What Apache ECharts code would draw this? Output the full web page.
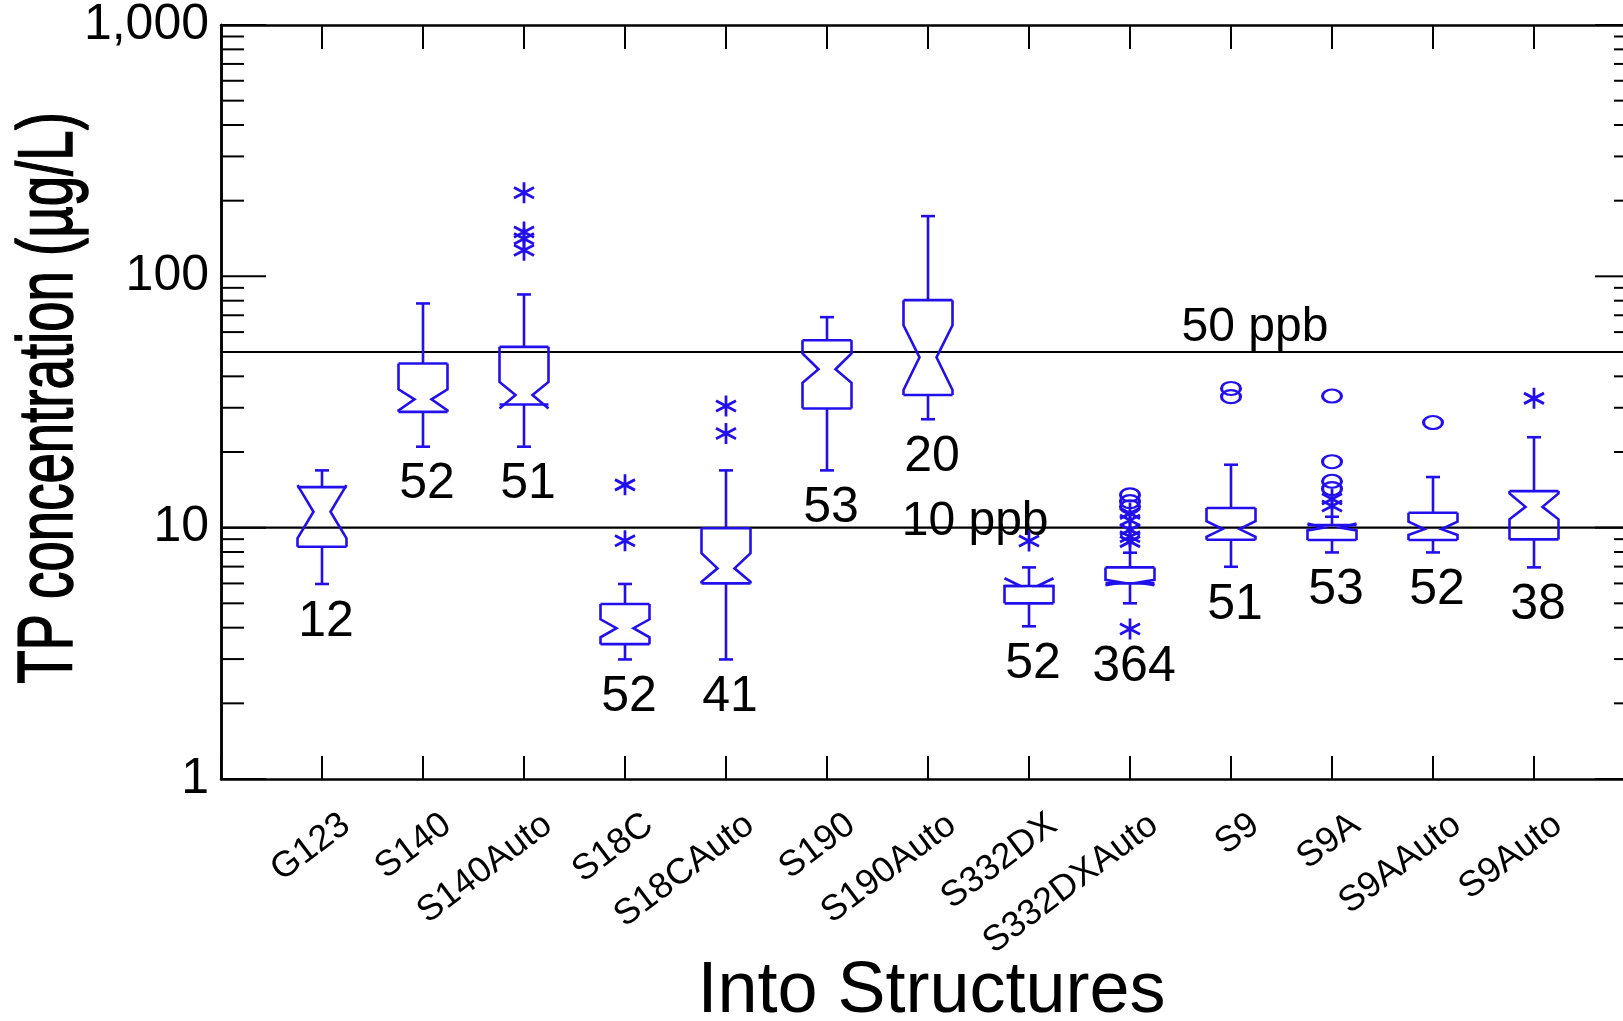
<!DOCTYPE html>
<html>
<head>
<meta charset="utf-8">
<script src="https://cdn.jsdelivr.net/npm/echarts@6/dist/echarts.min.js"></script>
<style>
  html, body { margin: 0; padding: 0; background: #fff; }
  #chart { width: 1623px; height: 1021px; }
</style>
</head>
<body>
<div id="chart"></div>
<script>
// ---- data ----
const categories = ['G123', 'S140', 'S140Auto', 'S18C', 'S18CAuto', 'S190', 'S190Auto',
  'S332DX', 'S332DXAuto', 'S9', 'S9A', 'S9AAuto', 'S9Auto'];
const whiskerLow  = [5.97, 21.0, 21.0, 2.99, 2.99, 16.9, 27.0, 4.05, 5.0, 6.99, 7.97, 7.97, 6.95];
const quartile1   = [8.40, 28.9, 30.9, 3.44, 6.0, 29.8, 33.7, 5.0, 6.0, 8.95, 8.93, 8.93, 8.98];
const notchLow    = [9.07, 29.3, 29.8, 3.66, 6.09, 37.7, 35.3, 5.86, 5.9, 9.2, 9.75, 9.35, 10.8];
const median      = [11.57, 32.4, 33.7, 3.98, 6.89, 42.7, 47.6, 5.86, 6.05, 9.87, 10.0, 9.87, 12.1];
const notchHigh   = [14.77, 35.5, 38.0, 4.32, 7.91, 49.3, 63.9, 6.29, 6.2, 10.62, 10.4, 10.56, 13.69];
const quartile3   = [14.5, 45.0, 52.4, 4.97, 9.94, 55.7, 80.4, 5.86, 6.95, 11.98, 10.24, 11.46, 13.98];
const whiskerHigh = [16.9, 78.0, 84.7, 5.97, 16.9, 68.8, 173.6, 6.95, 7.95, 17.8, 11.05, 15.9, 22.9];
const starOutliers = [[], [], [215, 150, 141, 127], [14.8, 8.87], [30.5, 23.7], [], [], [8.85],
  [11.4, 10.7, 9.8, 9.2, 8.8, 3.95], [], [13.0, 12.2], [], [32.7]];
const circleOutliers = [[], [], [], [], [], [], [], [], [13.5, 12.7, 12.1], [35.8, 33.2],
  [33.4, 18.3, 15.3, 14.3], [26.2], []];
const counts = [12, 52, 51, 52, 41, 53, 20, 52, 364, 51, 53, 52, 38];
const yTickValues = [1, 10, 100, 1000];
const minorTickValues = [2, 3, 4, 5, 6, 7, 8, 9, 20, 30, 40, 50, 60, 70, 80, 90,
  200, 300, 400, 500, 600, 700, 800, 900];
const refLevels = [50, 10];
const refLabels = ['50 ppb', '10 ppb'];
const yTitle = 'TP concentration (\u00b5g/L)';
const xTitle = 'Into Structures';

// ---- build ----
const BLUE = '#2210ec';
const FONT = '"Liberation Sans", Arial, Helvetica, sans-serif';

const boxData = categories.map((c, i) => {
  const lows = [whiskerLow[i]].concat(starOutliers[i], circleOutliers[i]);
  return [i + 1, whiskerLow[i], quartile1[i], notchLow[i], median[i], notchHigh[i],
    quartile3[i], whiskerHigh[i], Math.min.apply(null, lows), counts[i]];
});
const starData = [];
const circleData = [];
categories.forEach((c, i) => {
  starOutliers[i].forEach(v => starData.push([i + 1, v]));
  circleOutliers[i].forEach(v => circleData.push([i + 1, v]));
});
const minorData = minorTickValues.map(v => [0, v, 0]);
const majorData = yTickValues.map(v => [0, v, 1]);
const refData = refLevels.map((v, i) => [0, v, i]);

const HALF = 24.5, INDENT = 16, CAP = 7;
const lineStyle = { stroke: BLUE, lineWidth: 2.6, fill: null };

function renderBox(params, api) {
  const x = api.value(0);
  const P = v => api.coord([x, v]);
  const cx = P(1)[0];
  const yWL = P(api.value(1))[1], yQ1 = P(api.value(2))[1], yNL = P(api.value(3))[1];
  const yMed = P(api.value(4))[1], yNH = P(api.value(5))[1], yQ3 = P(api.value(6))[1];
  const yWH = P(api.value(7))[1], yMin = P(api.value(8))[1];
  const xL = cx - HALF, xR = cx + HALF;
  function side(xe, dir) {
    const pts = [];
    if (yNH > yQ3) pts.push([xe, yQ3]);
    pts.push([xe, yNH]);
    pts.push([xe + dir * INDENT, yMed]);
    pts.push([xe, yNL]);
    if (yNL < yQ1) pts.push([xe, yQ1]);
    return pts;
  }
  const children = [
    { type: 'polyline', shape: { points: side(xR, -1) }, style: lineStyle },
    { type: 'polyline', shape: { points: side(xL, 1) }, style: lineStyle },
    { type: 'line', shape: { x1: xL, y1: yQ3, x2: xR, y2: yQ3 }, style: lineStyle },
    { type: 'line', shape: { x1: xL, y1: yQ1, x2: xR, y2: yQ1 }, style: lineStyle },
    { type: 'line', shape: { x1: cx, y1: yQ3, x2: cx, y2: yWH }, style: lineStyle },
    { type: 'line', shape: { x1: cx, y1: yQ1, x2: cx, y2: yWL }, style: lineStyle },
    { type: 'line', shape: { x1: cx - CAP, y1: yWH, x2: cx + CAP, y2: yWH }, style: lineStyle },
    { type: 'line', shape: { x1: cx - CAP, y1: yWL, x2: cx + CAP, y2: yWL }, style: lineStyle },
    { type: 'text', x: cx + 4, y: yMin + 38,
      style: { text: String(api.value(9)), font: '50px ' + FONT, fill: '#000',
        align: 'center', verticalAlign: 'middle', textAlign: 'center', textVerticalAlign: 'middle' } }
  ];
  return { type: 'group', children: children };
}

// y-axis tick marks on both sides (major and minor), positioned through the log scale
function renderTicks(params, api) {
  const cs = params.coordSys;
  const y = api.coord([0, api.value(1)])[1];
  const major = api.value(2) === 1;
  const st = { stroke: '#000', lineWidth: 2 };
  const lenL = major ? 45 : 23, lenR = major ? 31 : 12;
  return { type: 'group', children: [
    { type: 'line', shape: { x1: cs.x, y1: y, x2: cs.x + lenL, y2: y }, style: st },
    { type: 'line', shape: { x1: cs.x + cs.width - lenR, y1: y, x2: cs.x + cs.width, y2: y }, style: st }
  ] };
}

const refLabelX = [9.51, 6.74];
const refLabelDy = [-24, -6];
function renderRef(params, api) {
  const cs = params.coordSys;
  const idx = api.value(2);
  const y = api.coord([0, api.value(1)])[1];
  const lx = api.coord([refLabelX[idx], api.value(1)])[0];
  return { type: 'group', children: [
    { type: 'line', shape: { x1: cs.x, y1: y, x2: cs.x + cs.width, y2: y },
      style: { stroke: '#000', lineWidth: 2.2 } },
    { type: 'text', x: lx, y: y + refLabelDy[idx],
      style: { text: refLabels[idx], font: '48px ' + FONT, fill: '#000',
        align: 'left', verticalAlign: 'middle', textAlign: 'left', textVerticalAlign: 'middle' } }
  ] };
}

const STAR = 'path://M10,0L10,20M1.34,5L18.66,15M1.34,15L18.66,5';
const ELLIPSE = 'path://M0,6.5A9.5,6.5 0 1,1 19,6.5A9.5,6.5 0 1,1 0,6.5Z';
const XMAX = 1405 / 101;

const chart = echarts.init(document.getElementById('chart'), null, { renderer: 'canvas' });
chart.setOption({
  animation: false,
  backgroundColor: '#fff',
  grid: { left: 221, right: -3, top: 25, bottom: 242, containLabel: false, outerBoundsMode: 'none' },
  xAxis: [{
    type: 'value', position: 'bottom', min: 0, max: XMAX, interval: 1,
    splitLine: { show: false },
    axisLine: { show: true, lineStyle: { color: '#000', width: 2.5 } },
    axisTick: { show: true, inside: true, length: 23, lineStyle: { color: '#000', width: 2 } },
    axisLabel: {
      rotate: 37, fontSize: 36, fontFamily: FONT, color: '#000', margin: 60,
      padding: [0, -30, 0, 0],
      formatter: v => (Number.isInteger(v) && v >= 1 && v <= categories.length) ? categories[v - 1] : ''
    },
    name: xTitle, nameLocation: 'middle', nameGap: 177, nameMoveOverlap: false,
    nameTextStyle: { fontSize: 72, fontFamily: FONT, color: '#000', padding: [0, 0, 0, 16],
      verticalAlign: 'top' }
  }, {
    type: 'value', position: 'top', min: 0, max: XMAX, interval: 1,
    splitLine: { show: false },
    axisLine: { show: true, lineStyle: { color: '#000', width: 2.5 } },
    axisTick: { show: true, inside: true, length: 24, lineStyle: { color: '#000', width: 2 } },
    axisLabel: { show: false }
  }],
  yAxis: [{
    type: 'log', logBase: 10, min: 1, max: 1000, position: 'left',
    splitLine: { show: false },
    axisLine: { show: true, lineStyle: { color: '#000', width: 2.5 } },
    axisTick: { show: false },
    axisLabel: {
      fontSize: 50, fontFamily: FONT, color: '#000', margin: 12,
      formatter: v => {
        const r = Math.round(v);
        return yTickValues.indexOf(r) >= 0 ? r.toLocaleString('en-US') : '';
      }
    }
  }, {
    type: 'log', logBase: 10, min: 1, max: 1000, position: 'right',
    splitLine: { show: false },
    axisLine: { show: true, lineStyle: { color: '#000', width: 2.5 } },
    axisTick: { show: false },
    axisLabel: { show: false }
  }],
  graphic: [{
    type: 'text', x: 50, y: 398, rotation: Math.PI / 2, scaleX: 0.70,
    style: { text: yTitle, font: '78px ' + FONT, fill: '#000', stroke: '#000', lineWidth: 1.5,
      align: 'center', verticalAlign: 'middle', textAlign: 'center', textVerticalAlign: 'middle' }
  }],
  series: [
    { type: 'custom', name: 'ticks', data: minorData.concat(majorData), encode: { x: 0, y: 1 },
      renderItem: renderTicks, silent: true, clip: false },
    { type: 'custom', name: 'refLines', data: refData, encode: { x: 0, y: 1 },
      renderItem: renderRef, silent: true, clip: false },
    { type: 'custom', name: 'boxes', data: boxData, encode: { x: 0, y: [1, 2, 3, 4, 5, 6, 7] },
      renderItem: renderBox, silent: true, clip: false },
    { type: 'scatter', name: 'outside', data: starData, symbol: STAR, symbolSize: [20, 21],
      itemStyle: { color: 'transparent', borderColor: BLUE, borderWidth: 2.8, opacity: 1 },
      silent: true },
    { type: 'scatter', name: 'farOutside', data: circleData, symbol: ELLIPSE, symbolSize: [19, 13],
      itemStyle: { color: 'transparent', borderColor: BLUE, borderWidth: 2.6, opacity: 1 },
      silent: true }
  ]
});
</script>
</body>
</html>
